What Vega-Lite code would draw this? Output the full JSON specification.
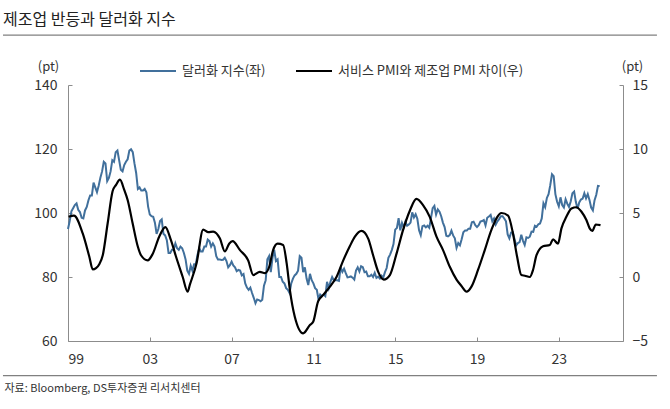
{
  "$schema": "https://vega.github.io/schema/vega-lite/v6.json",
  "width": 555,
  "height": 256,
  "autosize": {"type": "none"},
  "padding": {"left": 68, "top": 85, "right": 47, "bottom": 68},
  "background": "white",
  "config": {
    "view": {"stroke": null},
    "font": "Noto Sans CJK KR",
    "axis": {"grid": false, "domainColor": "#8c8c8c", "tickColor": "#8c8c8c", "labelFontSize": 14, "labelColor": "#333333", "titleFontWeight": "normal", "titleColor": "#333333", "labelFont": "Noto Sans CJK KR", "titleFont": "Noto Sans CJK KR"},
    "legend": {"labelFont": "Noto Sans CJK KR"}
  },
  "title": {"text": "제조업 반등과 달러화 지수", "anchor": "start", "frame": "group", "dx": -65, "dy": 15, "offset": 8, "baseline": "alphabetic", "fontSize": 16, "fontWeight": "normal", "color": "#222222", "font": "Noto Sans CJK KR"},
  "datasets": {
    "dxy": [
      {"t":1999,"v":95},{"t":1999.083,"v":97.5},{"t":1999.167,"v":100.5},{"t":1999.25,"v":101.5},{"t":1999.333,"v":102.5},{"t":1999.417,"v":103},{"t":1999.5,"v":101},{"t":1999.583,"v":100.3},{"t":1999.667,"v":98.5},{"t":1999.75,"v":98.3},{"t":1999.833,"v":100.8},{"t":1999.917,"v":101.9},
      {"t":2000,"v":104},{"t":2000.083,"v":105.5},{"t":2000.167,"v":105.5},{"t":2000.25,"v":109.5},{"t":2000.333,"v":108},{"t":2000.417,"v":106.5},{"t":2000.5,"v":108.5},{"t":2000.583,"v":111},{"t":2000.667,"v":113},{"t":2000.75,"v":116},{"t":2000.833,"v":115.5},{"t":2000.917,"v":110},
      {"t":2001,"v":111},{"t":2001.083,"v":113},{"t":2001.167,"v":116.5},{"t":2001.25,"v":116},{"t":2001.333,"v":119},{"t":2001.417,"v":119.5},{"t":2001.5,"v":116.5},{"t":2001.583,"v":113.5},{"t":2001.667,"v":113},{"t":2001.75,"v":115},{"t":2001.833,"v":116},{"t":2001.917,"v":116.8},
      {"t":2002,"v":119.5},{"t":2002.083,"v":119.9},{"t":2002.167,"v":119},{"t":2002.25,"v":115.5},{"t":2002.333,"v":112.5},{"t":2002.417,"v":107.5},{"t":2002.5,"v":108},{"t":2002.583,"v":107},{"t":2002.667,"v":107},{"t":2002.75,"v":107.5},{"t":2002.833,"v":106.5},{"t":2002.917,"v":102},
      {"t":2003,"v":99.5},{"t":2003.083,"v":99},{"t":2003.167,"v":98.8},{"t":2003.25,"v":97},{"t":2003.333,"v":93.5},{"t":2003.417,"v":95},{"t":2003.5,"v":97.5},{"t":2003.583,"v":98},{"t":2003.667,"v":93.5},{"t":2003.75,"v":93},{"t":2003.833,"v":91.5},{"t":2003.917,"v":87.5},
      {"t":2004,"v":87.5},{"t":2004.083,"v":88.5},{"t":2004.167,"v":88.5},{"t":2004.25,"v":90.5},{"t":2004.333,"v":89},{"t":2004.417,"v":88.5},{"t":2004.5,"v":89.5},{"t":2004.583,"v":89},{"t":2004.667,"v":87.5},{"t":2004.75,"v":85.5},{"t":2004.833,"v":82},{"t":2004.917,"v":81},
      {"t":2005,"v":83.5},{"t":2005.083,"v":82},{"t":2005.167,"v":84},{"t":2005.25,"v":84},{"t":2005.333,"v":87},{"t":2005.417,"v":89},{"t":2005.5,"v":88},{"t":2005.583,"v":88},{"t":2005.667,"v":89.5},{"t":2005.75,"v":89.5},{"t":2005.833,"v":91.7},{"t":2005.917,"v":91.2},
      {"t":2006,"v":89.5},{"t":2006.083,"v":90.5},{"t":2006.167,"v":89.5},{"t":2006.25,"v":86.5},{"t":2006.333,"v":85.5},{"t":2006.417,"v":85.5},{"t":2006.5,"v":85.3},{"t":2006.583,"v":85.4},{"t":2006.667,"v":86},{"t":2006.75,"v":85},{"t":2006.833,"v":83},{"t":2006.917,"v":83.7},
      {"t":2007,"v":84.8},{"t":2007.083,"v":83.6},{"t":2007.167,"v":83},{"t":2007.25,"v":81.8},{"t":2007.333,"v":82.2},{"t":2007.417,"v":82},{"t":2007.5,"v":80.5},{"t":2007.583,"v":80.9},{"t":2007.667,"v":78},{"t":2007.75,"v":76.7},{"t":2007.833,"v":76},{"t":2007.917,"v":76.7},
      {"t":2008,"v":75},{"t":2008.083,"v":73.5},{"t":2008.167,"v":71.8},{"t":2008.25,"v":73},{"t":2008.333,"v":72.8},{"t":2008.417,"v":72.4},{"t":2008.5,"v":72.9},{"t":2008.583,"v":77.3},{"t":2008.667,"v":79},{"t":2008.75,"v":85.5},{"t":2008.833,"v":86.5},{"t":2008.917,"v":81.5},
      {"t":2009,"v":86},{"t":2009.083,"v":88.5},{"t":2009.167,"v":85},{"t":2009.25,"v":85.5},{"t":2009.333,"v":80},{"t":2009.417,"v":80},{"t":2009.5,"v":78.5},{"t":2009.583,"v":78},{"t":2009.667,"v":76.5},{"t":2009.75,"v":76},{"t":2009.833,"v":75},{"t":2009.917,"v":78},
      {"t":2010,"v":79.5},{"t":2010.083,"v":80.5},{"t":2010.167,"v":81},{"t":2010.25,"v":82},{"t":2010.333,"v":86.5},{"t":2010.417,"v":86},{"t":2010.5,"v":81.5},{"t":2010.583,"v":83},{"t":2010.667,"v":79.5},{"t":2010.75,"v":77.5},{"t":2010.833,"v":81},{"t":2010.917,"v":79},
      {"t":2011,"v":78},{"t":2011.083,"v":76.5},{"t":2011.167,"v":76},{"t":2011.25,"v":73},{"t":2011.333,"v":74.5},{"t":2011.417,"v":74},{"t":2011.5,"v":74.5},{"t":2011.583,"v":74},{"t":2011.667,"v":78.5},{"t":2011.75,"v":76.5},{"t":2011.833,"v":78.5},{"t":2011.917,"v":80},
      {"t":2012,"v":79},{"t":2012.083,"v":79},{"t":2012.167,"v":79},{"t":2012.25,"v":78.8},{"t":2012.333,"v":83},{"t":2012.417,"v":81.6},{"t":2012.5,"v":82.6},{"t":2012.583,"v":81.2},{"t":2012.667,"v":79.9},{"t":2012.75,"v":80},{"t":2012.833,"v":80.2},{"t":2012.917,"v":79.8},
      {"t":2013,"v":79.2},{"t":2013.083,"v":82},{"t":2013.167,"v":83},{"t":2013.25,"v":81.7},{"t":2013.333,"v":83.4},{"t":2013.417,"v":83.1},{"t":2013.5,"v":81.5},{"t":2013.583,"v":81.7},{"t":2013.667,"v":80.2},{"t":2013.75,"v":80.2},{"t":2013.833,"v":80.7},{"t":2013.917,"v":80},
      {"t":2014,"v":81.3},{"t":2014.083,"v":79.7},{"t":2014.167,"v":80.1},{"t":2014.25,"v":79.5},{"t":2014.333,"v":80.4},{"t":2014.417,"v":79.8},{"t":2014.5,"v":81.5},{"t":2014.583,"v":82.8},{"t":2014.667,"v":86},{"t":2014.75,"v":87},{"t":2014.833,"v":88.4},{"t":2014.917,"v":90.3},
      {"t":2015,"v":94.8},{"t":2015.083,"v":95.3},{"t":2015.167,"v":98.4},{"t":2015.25,"v":94.6},{"t":2015.333,"v":96.9},{"t":2015.417,"v":95.5},{"t":2015.5,"v":97.3},{"t":2015.583,"v":96},{"t":2015.667,"v":96.4},{"t":2015.75,"v":97},{"t":2015.833,"v":100.2},{"t":2015.917,"v":98.6},
      {"t":2016,"v":99.6},{"t":2016.083,"v":98.2},{"t":2016.167,"v":94.6},{"t":2016.25,"v":93.1},{"t":2016.333,"v":95.9},{"t":2016.417,"v":96.1},{"t":2016.5,"v":95.5},{"t":2016.583,"v":96},{"t":2016.667,"v":95.4},{"t":2016.75,"v":98.4},{"t":2016.833,"v":101.5},{"t":2016.917,"v":102.2},
      {"t":2017,"v":99.5},{"t":2017.083,"v":101.1},{"t":2017.167,"v":100.4},{"t":2017.25,"v":99},{"t":2017.333,"v":97},{"t":2017.417,"v":95.6},{"t":2017.5,"v":92.9},{"t":2017.583,"v":92.7},{"t":2017.667,"v":93.1},{"t":2017.75,"v":94.5},{"t":2017.833,"v":93},{"t":2017.917,"v":92.1},
      {"t":2018,"v":89.1},{"t":2018.083,"v":90.6},{"t":2018.167,"v":89.9},{"t":2018.25,"v":91.8},{"t":2018.333,"v":94},{"t":2018.417,"v":94.5},{"t":2018.5,"v":94.5},{"t":2018.583,"v":95.1},{"t":2018.667,"v":95.1},{"t":2018.75,"v":97.1},{"t":2018.833,"v":97.3},{"t":2018.917,"v":96.2},
      {"t":2019,"v":95.6},{"t":2019.083,"v":96.2},{"t":2019.167,"v":97.3},{"t":2019.25,"v":97.5},{"t":2019.333,"v":97.8},{"t":2019.417,"v":96.1},{"t":2019.5,"v":98.5},{"t":2019.583,"v":98.9},{"t":2019.667,"v":99.4},{"t":2019.75,"v":97.4},{"t":2019.833,"v":98.3},{"t":2019.917,"v":96.4},
      {"t":2020,"v":97.4},{"t":2020.083,"v":98.1},{"t":2020.167,"v":99},{"t":2020.25,"v":99},{"t":2020.333,"v":98.3},{"t":2020.417,"v":97.4},{"t":2020.5,"v":93.3},{"t":2020.583,"v":92.1},{"t":2020.667,"v":93.9},{"t":2020.75,"v":94},{"t":2020.833,"v":91.9},{"t":2020.917,"v":89.9},
      {"t":2021,"v":90.6},{"t":2021.083,"v":90.9},{"t":2021.167,"v":93.2},{"t":2021.25,"v":91.3},{"t":2021.333,"v":90},{"t":2021.417,"v":92.4},{"t":2021.5,"v":92.2},{"t":2021.583,"v":92.6},{"t":2021.667,"v":94.2},{"t":2021.75,"v":94.1},{"t":2021.833,"v":96},{"t":2021.917,"v":95.7},
      {"t":2022,"v":96.5},{"t":2022.083,"v":96.7},{"t":2022.167,"v":98.3},{"t":2022.25,"v":103},{"t":2022.333,"v":101.8},{"t":2022.417,"v":104.7},{"t":2022.5,"v":105.9},{"t":2022.583,"v":108.7},{"t":2022.667,"v":112.1},{"t":2022.75,"v":111.5},{"t":2022.833,"v":105.9},{"t":2022.917,"v":103.5},
      {"t":2023,"v":102.1},{"t":2023.083,"v":104.9},{"t":2023.167,"v":102.5},{"t":2023.25,"v":101.7},{"t":2023.333,"v":104.3},{"t":2023.417,"v":102.9},{"t":2023.5,"v":101.9},{"t":2023.583,"v":103.6},{"t":2023.667,"v":106.2},{"t":2023.75,"v":106.7},{"t":2023.833,"v":103.5},{"t":2023.917,"v":101.3},
      {"t":2024,"v":103.3},{"t":2024.083,"v":104.2},{"t":2024.167,"v":104.5},{"t":2024.25,"v":106.2},{"t":2024.333,"v":104.6},{"t":2024.417,"v":105.9},{"t":2024.5,"v":104.1},{"t":2024.583,"v":101.7},{"t":2024.667,"v":100.8},{"t":2024.75,"v":104},{"t":2024.833,"v":105.7},{"t":2024.917,"v":108.5},
      {"t":2025,"v":108.4}
    ],
    "pmi": [
      {"t":1999.03,"d":4.7},{"t":1999.29,"d":4.8},{"t":1999.72,"d":3.4},{"t":2000.04,"d":1.6},{"t":2000.21,"d":0.6},{"t":2000.37,"d":0.7},{"t":2000.53,"d":1.0},{"t":2000.7,"d":1.7},{"t":2000.94,"d":4.2},
      {"t":2001.18,"d":6.7},{"t":2001.35,"d":7.2},{"t":2001.54,"d":7.6},{"t":2001.75,"d":6.8},{"t":2001.92,"d":6.0},{"t":2002.16,"d":4.2},{"t":2002.41,"d":2.4},{"t":2002.57,"d":1.7},{"t":2002.9,"d":1.3},
      {"t":2003.14,"d":1.8},{"t":2003.46,"d":3.15},{"t":2003.76,"d":3.9},{"t":2004.03,"d":2.9},{"t":2004.28,"d":1.6},{"t":2004.61,"d":0.0},{"t":2004.85,"d":-1.15},{"t":2004.96,"d":-0.6},
      {"t":2005.29,"d":1.1},{"t":2005.61,"d":3.7},{"t":2005.86,"d":3.5},{"t":2006.1,"d":3.55},{"t":2006.43,"d":3.0},{"t":2006.67,"d":2.0},{"t":2006.88,"d":2.6},{"t":2007.05,"d":2.8},{"t":2007.41,"d":2.1},{"t":2007.81,"d":1.3},
      {"t":2008.06,"d":0.15},{"t":2008.38,"d":0.4},{"t":2008.63,"d":0.3},{"t":2008.84,"d":0.8},{"t":2009.03,"d":2.1},{"t":2009.25,"d":2.6},{"t":2009.52,"d":2.5},{"t":2009.69,"d":1.1},{"t":2009.85,"d":-1.0},
      {"t":2010.09,"d":-3.1},{"t":2010.5,"d":-4.4},{"t":2010.83,"d":-3.75},{"t":2010.99,"d":-3.5},{"t":2011.23,"d":-1.9},{"t":2011.48,"d":-1.4},{"t":2011.81,"d":-0.75},
      {"t":2012.13,"d":0.0},{"t":2012.46,"d":1.3},{"t":2012.78,"d":2.4},{"t":2013.03,"d":3.15},{"t":2013.35,"d":3.6},{"t":2013.68,"d":3.0},{"t":2013.92,"d":1.7},{"t":2014.17,"d":0.4},{"t":2014.44,"d":-0.2},{"t":2014.74,"d":0.15},
      {"t":2015.07,"d":1.85},{"t":2015.39,"d":3.7},{"t":2015.72,"d":5.2},{"t":2016.04,"d":6.1},{"t":2016.37,"d":5.6},{"t":2016.69,"d":4.7},{"t":2017.02,"d":3.15},{"t":2017.34,"d":2.1},{"t":2017.67,"d":0.8},
      {"t":2018.0,"d":-0.2},{"t":2018.24,"d":-0.7},{"t":2018.49,"d":-1.15},{"t":2018.73,"d":-0.75},{"t":2019.05,"d":0.55},{"t":2019.38,"d":2.1},{"t":2019.71,"d":3.7},{"t":2020.2,"d":5.0},{"t":2020.52,"d":4.8},{"t":2020.76,"d":3.4},{"t":2020.96,"d":1.6},
      {"t":2021.17,"d":0.15},{"t":2021.34,"d":0.1},{"t":2021.58,"d":0.0},{"t":2021.74,"d":0.55},{"t":2021.91,"d":1.7},{"t":2022.23,"d":2.4},{"t":2022.56,"d":2.5},{"t":2022.72,"d":2.95},{"t":2022.96,"d":2.6},
      {"t":2023.13,"d":3.8},{"t":2023.37,"d":4.7},{"t":2023.62,"d":5.35},{"t":2023.86,"d":5.45},{"t":2024.11,"d":5.1},{"t":2024.35,"d":4.45},{"t":2024.51,"d":3.8},{"t":2024.64,"d":3.6},{"t":2024.81,"d":4.1},{"t":2025.04,"d":4.05}
    ]
  },
  "layer": [
    {
      "layer": [
        {
          "data": {"name": "dxy"},
          "mark": {"type": "line", "strokeWidth": 2},
          "encoding": {
            "x": {"field": "t", "type": "quantitative", "scale": {"domain": [1999, 2026.14], "nice": false, "zero": false},
              "axis": {"values": [1999, 2003, 2007, 2011, 2015, 2019, 2023], "labelExpr": "slice(toString(datum.value), 2)", "tickSize": -4, "labelPadding": 15, "labelFontSize": 14,
                "title": "자료: Bloomberg, DS투자증권 리서치센터", "titleX": -64, "titleY": 47, "titleAlign": "left", "titleBaseline": "middle", "titleFontSize": 11, "titleAnchor": "start"}},
            "y": {"field": "v", "type": "quantitative", "scale": {"domain": [60, 140], "nice": false, "zero": false},
              "axis": {"values": [60, 80, 100, 120, 140], "tickSize": -4, "labelPadding": 15, "title": "(pt)", "titleAngle": 0, "titleX": -20, "titleY": -19, "titleAlign": "center", "titleBaseline": "middle", "titleFontSize": 13}},
            "color": {"datum": "달러화 지수(좌)", "type": "nominal",
              "scale": {"domain": ["달러화 지수(좌)", "서비스 PMI와 제조업 PMI 차이(우)"], "range": ["#41709c", "#000000"]},
              "legend": {"title": null, "orient": "none", "legendX": 71, "legendY": -33, "direction": "horizontal", "symbolType": "stroke", "symbolSize": 1296, "symbolStrokeWidth": 2, "labelFontSize": 13, "labelColor": "#333333", "labelOffset": 5, "labelLimit": 0, "columnPadding": 26, "padding": 0}}
          }
        },
        {
          "data": {"values": [{}]},
          "mark": {"type": "rule", "color": "#808080", "strokeWidth": 1.2},
          "encoding": {"x": {"datum": 1995.82}, "x2": {"datum": 2027.8}, "y": {"datum": 155.6}}
        },
        {
          "data": {"values": [{}]},
          "mark": {"type": "rule", "color": "#808080", "strokeWidth": 1.2},
          "encoding": {"x": {"datum": 1995.82}, "x2": {"datum": 2027.8}, "y": {"datum": 49.16}}
        }
      ]
    },
    {
      "data": {"name": "pmi"},
      "mark": {"type": "line", "strokeWidth": 2.2, "interpolate": "monotone"},
      "encoding": {
        "x": {"field": "t", "type": "quantitative"},
        "y": {"field": "d", "type": "quantitative", "scale": {"domain": [-5, 15], "nice": false, "zero": false},
          "axis": {"orient": "right", "values": [-5, 0, 5, 10, 15], "tickSize": -4, "labelPadding": 13, "title": "(pt)", "titleAngle": 0, "titleX": 9, "titleY": -19, "titleAlign": "center", "titleBaseline": "middle", "titleFontSize": 13}},
        "color": {"datum": "서비스 PMI와 제조업 PMI 차이(우)", "type": "nominal"}
      }
    }
  ],
  "resolve": {"scale": {"y": "independent"}}
}
